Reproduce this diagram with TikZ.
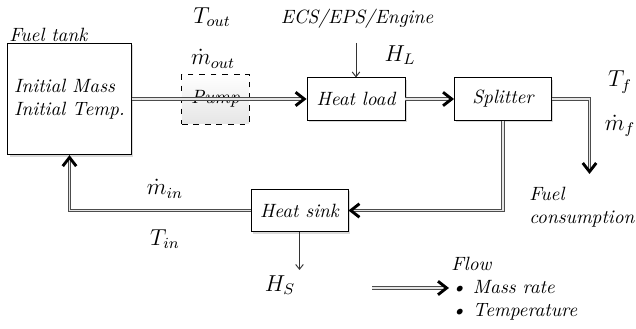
\documentclass[tikz,border=0pt]{standalone}
\usepackage{xcolor}
\usepackage{tikz}
\usetikzlibrary{arrows.meta,shadows}

\tikzset{
  block/.style={draw, rectangle, fill=white, font=\itshape, drop shadow={shadow xshift=1pt, shadow yshift=-1pt, opacity=0.3}},
  flow/.style={draw=black!70, line width=0.5pt, double=black!10, double distance=0.8pt,
    -{Straight Barb[length=4.5pt, width=7pt, line width=1.5pt, color=black]}},
  heat/.style={draw=black!80, line width=0.5pt, -{Straight Barb[length=2.5pt, width=4pt]}},
  note/.style={font=\itshape, inner sep=1pt},
  qty/.style={font=\large, inner sep=1pt}
}

\begin{document}
\begin{tikzpicture}[x=0.52pt, y=-0.52pt]
    \useasboundingbox (0,0) rectangle (636,329);

    % Fuel tank
    \node[block, minimum width=64pt, minimum height=58pt, align=left] (tank) at (69.5,99) {Initial Mass\\Initial Temp.};
    \node[note, anchor=west] (tanklbl) at (7,35) {Fuel tank};

    % Pump
    \node[draw, dashed, rectangle, top color=white, middle color=white, bottom color=black!10, font=\itshape, minimum width=35pt, minimum height=26pt] (pump) at (215.5,99) {Pump};
    \node[qty] (tout) at (212,17) {$T_{out}$};
    \node[qty] (mout) at (213,59) {$\dot{m}_{out}$};

    % Heat load
    \node[block, minimum width=51pt, minimum height=22pt] (load) at (356,99) {Heat load};
    \node[note] (ecs) at (357,19) {ECS/EPS/Engine};
    \node[qty] (hl) at (400,55) {$H_L$};

    % Splitter
    \node[block, minimum width=50.5pt, minimum height=22pt] (split) at (503,99) {Splitter};
    \node[qty] (tf) at (620,82) {$T_f$};
    \node[qty] (mf) at (620,126) {$\dot{m}_f$};
    \coordinate (cons) at (589.5,174);
    \node[note, align=left, anchor=north west] (conslbl) at (527,185) {Fuel\\consumption};

    % Heat sink
    \node[block, minimum width=50.5pt, minimum height=22pt] (sink) at (299.5,210.5) {Heat sink};
    \node[qty] (min) at (165,189) {$\dot{m}_{in}$};
    \node[qty] (tin) at (165,239) {$T_{in}$};
    \coordinate (hsout) at (sink.south |- 0,270);
    \node[qty] (hs) at (280,285) {$H_S$};

    % Connections
    \draw[flow] (tank.east) -- (load.west);
    \draw[flow] (load) -- (split);
    \draw[flow] (split.east) -| (cons);
    \draw[flow] (split.south) |- (sink.east);
    \draw[flow] (sink.west) -| (tank.south);
    \draw[heat] (ecs.south -| load.north) ++(0,12) -- (load.north);
    \draw[heat] (sink.south) -- (hsout);

    % Legend
    \coordinate (legA) at (372,288);
    \node[note, align=left, anchor=west] (leglbl) at (449,289) {Flow\\\textbullet\ Mass rate\\\textbullet\ Temperature};
    \draw[flow] (legA) -- (leglbl.west |- legA);
\end{tikzpicture}
\end{document}
